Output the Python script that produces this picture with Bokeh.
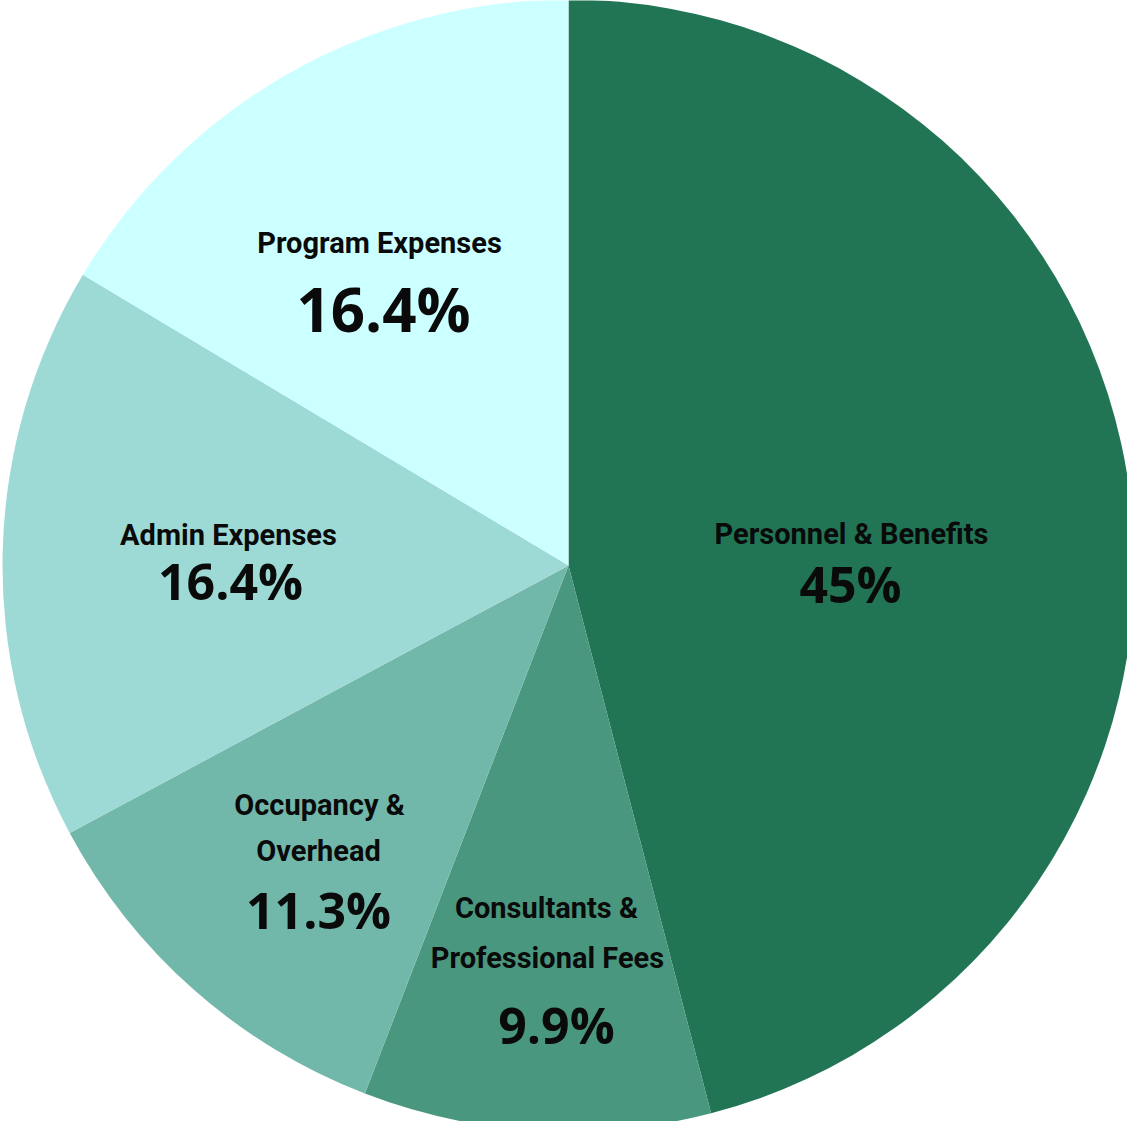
import math
from bokeh.plotting import figure
from bokeh.models import Range1d, ColumnDataSource
from bokeh.core.properties import value
from bokeh.embed import file_html
from bokeh.resources import INLINE

# ---- data ----
categories = ["Personnel & Benefits", "Consultants & Professional Fees",
              "Occupancy & Overhead", "Admin Expenses", "Program Expenses"]
shares = [45.9, 9.9, 11.3, 16.4, 16.4]
pct_labels = ["45%", "9.9%", "11.3%", "16.4%", "16.4%"]
name_lines = [["Personnel & Benefits"], ["Consultants &", "Professional Fees"],
              ["Occupancy &", "Overhead"], ["Admin Expenses"], ["Program Expenses"]]
colors = ["#217555", "#4a977f", "#72b8aa", "#9ddad5", "#ccffff"]

# ---- layout (pixel offsets from pie centre) ----
W, H = 1127, 1121
CX, CY = 568, 565          # centre inside the figure, px
R = 566
name_pos = [[(283, 32)], [(-22, -342), (-21, -392)], [(-249, -239), (-250, -285)],
            [(-340, 31)], [(-189, 323)]]
pct_pos = [(282, -18), (-12, -459), (-250, -344), (-338, -15), (-185, 257)]
pct_size = ["50px", "50px", "50px", "50px", "60px"]

p = figure(width=W, height=H, output_backend="svg", toolbar_location=None,
           x_range=Range1d(-CX, W - CX), y_range=Range1d(-(H - CY), CY),
           min_border=0, outline_line_color=None)
p.axis.visible = False
p.grid.visible = False
p.background_fill_color = "white"
p.border_fill_color = "white"

total = sum(shares)
starts, ends = [], []
cum = 0.0
for s in shares:
    starts.append(math.pi / 2 - 2 * math.pi * cum / total)
    cum += s
    ends.append(math.pi / 2 - 2 * math.pi * cum / total)

src = ColumnDataSource(dict(cat=categories, start=starts, end=ends, color=colors))
p.wedge(x=0, y=0, radius=R, start_angle="start", end_angle="end", direction="clock",
        fill_color="color", line_color=None, source=src)

nx, ny, nt = [], [], []
for lines, poss in zip(name_lines, name_pos):
    for t, (x, y) in zip(lines, poss):
        nx.append(x); ny.append(y); nt.append(t)
p.text(x=nx, y=ny, text=nt, text_align="center", text_baseline="middle",
       text_font=value("Roboto"), text_font_style="bold",
       text_font_size="29px", text_color="#0a0a0a")

p.text(x=[q[0] for q in pct_pos], y=[q[1] for q in pct_pos], text=pct_labels,
       text_align="center", text_baseline="middle", text_font=value("Open Sans"),
       text_font_style="bold", text_font_size=pct_size, text_color="#0a0a0a")

open("out.html", "w").write(file_html(p, INLINE))
